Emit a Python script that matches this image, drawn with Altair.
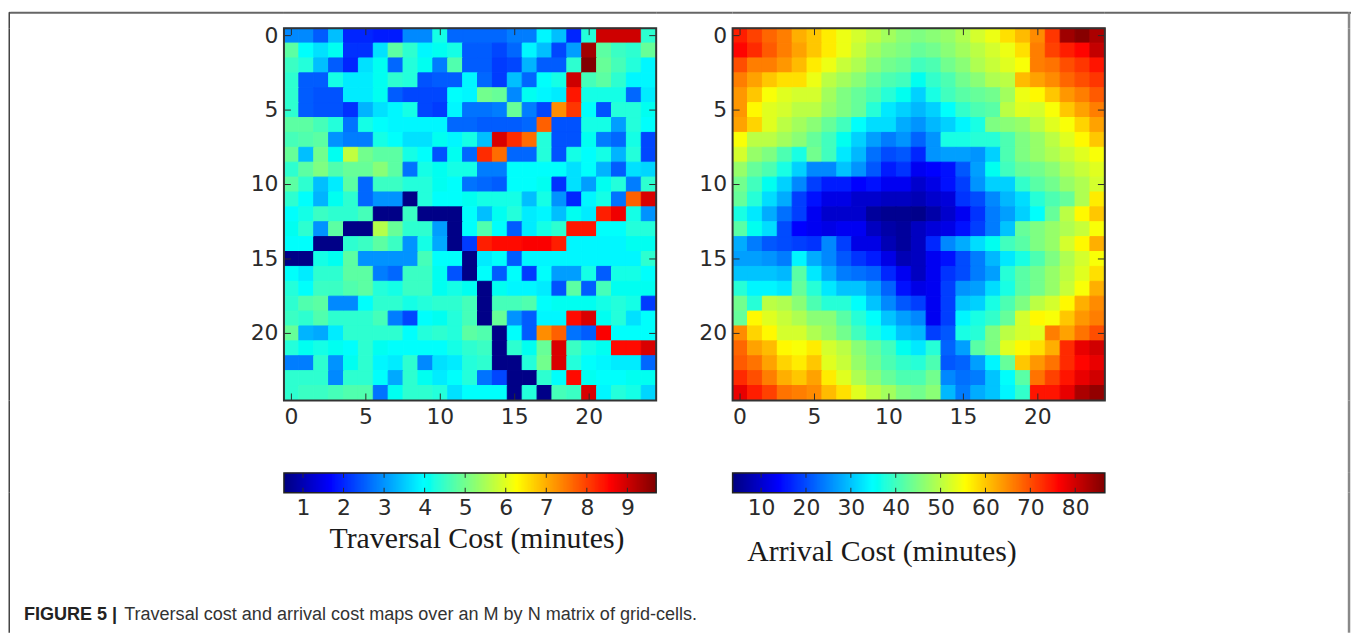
import altair as alt
import numpy as np
import pandas as pd

traversal_cost = [
 [2.9,2.9,2.5,3.4,2.0,2.0,1.9,1.9,2.9,2.9,4.2,2.6,2.6,2.6,2.6,2.8,2.8,3.9,3.4,2.0,4.3,9.0,9.0,9.0,4.4],
 [4.8,4.0,3.7,4.1,2.1,2.1,3.7,4.8,4.4,3.9,4.1,4.2,2.5,2.5,2.3,2.6,3.9,3.4,2.3,3.1,9.4,4.8,4.5,4.4,4.9],
 [4.5,4.3,3.4,2.5,2.0,3.7,4.1,2.6,4.3,4.1,2.8,4.7,2.5,2.5,2.2,2.3,3.3,2.5,2.5,4.4,9.7,4.9,4.6,4.3,3.9],
 [4.4,2.5,2.5,4.2,3.8,3.8,4.1,4.4,4.3,2.4,2.5,2.5,3.9,2.6,2.2,3.4,2.6,4.0,4.2,9.0,4.6,4.8,4.4,3.9,3.9],
 [4.4,2.5,2.4,2.4,3.8,3.8,4.1,2.5,2.3,2.3,2.3,4.0,3.9,5.0,4.9,2.9,4.1,3.9,3.8,8.4,4.2,4.2,4.2,2.6,3.8],
 [4.4,2.5,2.4,2.4,2.1,3.3,3.7,3.9,4.2,2.3,2.2,3.9,2.7,2.7,2.8,4.9,2.8,2.3,7.3,8.1,4.0,2.4,4.3,4.3,4.1],
 [4.8,4.8,4.6,4.3,2.7,4.2,4.0,3.9,3.9,3.9,3.9,2.6,2.6,2.5,2.5,2.5,2.6,7.7,2.4,2.4,4.2,4.2,3.1,4.3,4.0],
 [4.6,4.7,4.8,3.0,2.8,2.8,4.2,4.0,3.7,3.7,4.1,3.9,4.2,3.4,8.9,8.2,7.6,4.3,2.4,2.4,4.1,2.8,2.6,4.2,2.3],
 [4.9,3.4,5.0,4.1,5.7,5.0,4.8,4.8,4.2,4.0,2.4,4.1,2.6,8.2,7.6,2.6,2.6,4.3,2.4,4.2,4.0,4.2,3.3,4.3,2.3],
 [4.4,4.8,5.1,4.7,4.9,4.9,5.2,4.8,2.7,4.2,4.1,4.2,4.2,2.8,2.8,4.0,4.0,4.0,4.0,3.7,4.0,3.3,2.5,3.7,3.6],
 [4.8,4.4,3.4,3.8,4.8,2.6,4.5,4.5,4.3,4.3,4.1,4.0,2.7,2.6,2.5,4.0,4.0,4.1,2.1,3.7,3.1,4.1,4.3,2.8,4.4],
 [4.4,4.0,3.3,4.1,4.4,2.6,3.0,3.0,0.6,4.3,4.0,4.0,4.1,4.2,4.2,4.2,3.4,4.2,3.0,2.0,3.9,4.2,2.7,7.7,8.9],
 [4.0,4.2,4.5,4.4,4.4,4.6,0.6,0.6,4.5,0.6,0.6,0.6,4.0,3.4,4.1,4.3,3.8,3.9,3.4,4.1,3.8,8.3,8.7,4.2,3.0],
 [4.1,4.4,3.0,4.8,0.6,0.6,5.6,4.9,4.4,4.4,3.1,0.6,4.0,4.7,4.0,2.5,3.8,4.2,4.4,8.4,8.4,4.0,4.0,4.3,4.3],
 [4.0,4.0,0.6,0.6,4.4,4.5,4.8,4.5,3.0,4.2,3.2,0.6,2.2,8.3,8.5,8.5,8.6,8.6,8.3,3.9,3.9,3.9,3.9,4.1,4.1],
 [0.6,0.6,4.2,4.1,4.8,3.0,3.0,3.0,3.0,4.6,4.0,4.0,0.6,3.8,4.0,2.5,3.9,3.9,3.9,3.9,3.9,3.9,3.9,3.9,4.4],
 [4.0,3.8,4.4,4.4,4.8,4.8,2.8,2.6,4.5,4.5,4.1,2.4,0.6,4.0,2.5,4.0,2.2,4.0,3.1,3.1,4.2,2.5,4.2,4.2,4.0],
 [4.3,4.0,4.5,4.5,4.7,4.8,4.3,4.2,4.5,4.5,4.1,4.2,4.1,0.6,4.1,3.9,3.9,3.8,2.4,4.8,2.5,4.6,4.1,4.1,4.1],
 [4.4,4.7,4.8,2.9,2.9,4.0,4.4,4.4,4.2,4.3,4.4,4.4,4.6,0.6,4.6,4.6,4.7,4.0,4.1,4.1,4.1,4.2,4.3,4.2,2.2],
 [4.5,4.4,4.7,4.4,4.4,4.4,4.6,2.8,2.3,4.0,4.1,4.3,4.6,0.6,4.9,3.0,2.5,3.9,3.9,8.5,8.9,4.1,4.3,3.7,4.0],
 [4.9,3.3,3.2,3.8,4.4,4.4,4.4,4.4,4.0,4.3,4.4,4.3,4.8,4.7,0.6,4.0,2.5,7.3,7.7,2.7,2.5,8.6,4.0,4.0,4.0],
 [4.3,4.1,4.2,4.1,4.0,4.4,4.1,4.0,4.0,4.0,4.0,4.2,4.4,4.5,0.6,4.4,4.1,4.9,8.9,4.5,4.2,4.1,8.5,8.5,8.9],
 [2.8,2.8,4.4,3.0,4.1,4.4,3.9,3.8,4.4,2.9,3.7,3.8,4.3,4.4,0.6,0.6,4.3,5.0,8.9,4.3,4.0,3.9,3.8,3.8,2.6],
 [4.4,4.4,4.4,2.9,4.4,4.4,4.0,3.2,4.4,4.1,3.8,4.0,4.3,2.7,2.3,0.6,0.6,4.4,4.0,8.5,4.1,4.0,4.0,4.1,4.1],
 [4.4,4.5,4.5,4.6,4.7,4.7,2.7,4.1,4.4,4.4,4.3,3.7,4.0,4.0,4.0,0.6,4.3,0.6,4.6,4.5,8.9,3.9,4.3,4.2,3.6],
]

arrival_cost = [
 [74,71,68,66,62,60,57,54,52,50,48,46,45,46,47,49,52,54,58,61,65,72,84,86,83],
 [76,73,69,66,63,60,57,54,51,48,46,45,43,44,46,48,50,52,54,58,66,71,74,76,81],
 [70,66,66,64,61,57,54,51,49,46,44,43,40,41,44,46,49,51,53,55,66,67,70,72,75],
 [66,63,60,58,58,54,50,48,46,43,41,40,36,39,41,44,46,49,50,61,63,65,68,70,72],
 [64,60,55,53,52,52,48,45,43,41,38,36,31,37,40,42,43,44,48,54,56,60,64,66,69],
 [64,56,53,52,50,50,47,45,43,38,33,31,29,31,35,39,41,42,50,53,52,55,60,63,66],
 [63,59,53,50,48,46,43,40,35,32,32,28,26,29,31,34,37,45,46,47,50,53,55,59,63],
 [55,50,50,48,46,43,40,36,31,27,24,26,22,26,37,37,38,38,41,45,47,50,53,56,60],
 [52,47,45,41,37,44,40,33,29,23,20,21,17,26,27,27,26,31,41,45,47,49,51,53,55],
 [47,43,41,37,31,25,25,30,26,21,16,18,13,14,15,21,27,36,40,43,44,46,49,51,53],
 [44,40,36,31,25,19,16,16,14,15,13,13,10,12,15,19,26,31,31,39,42,44,47,49,52],
 [43,38,32,28,19,15,12,12,10,10,9,9,8,10,11,18,20,25,29,32,38,41,43,49,57],
 [37,33,28,23,19,13,10,10,10,6,5,5,4.5,7,10,13,18,24,27,31,35,43,50,56,60],
 [42,36,32,20,14,13,12,13,13,9,7,6,9,11,12,15,19,24,30,43,45,47,49,51,55],
 [28,24,21,20,19,18,25,19,12,12,8,6,9,17,25,28,32,36,40,42,45,47,52,56,62],
 [27,27,26,24,34,28,25,21,18,16,12,8,9,13,15,20,24,29,33,37,41,45,49,52,55],
 [30,30,30,29,42,33,28,24,23,22,17,13,9,13,18,20,24,27,38,42,44,47,50,53,58],
 [38,34,34,33,43,38,33,30,30,27,22,15,12,13,19,26,27,32,37,42,44,47,51,55,62],
 [44,38,50,49,46,41,38,38,35,30,25,21,19,13,19,30,31,37,41,45,50,52,56,62,65],
 [43,56,53,51,49,46,46,42,38,35,30,27,25,13,19,34,37,39,43,52,56,55,60,64,66],
 [65,59,56,52,52,49,47,44,40,37,34,30,29,19,21,37,38,45,50,52,53,66,63,67,70],
 [68,63,61,56,55,57,52,50,46,43,40,36,33,38,22,27,42,45,53,56,58,62,73,78,80],
 [69,67,63,59,57,60,53,51,47,44,41,39,38,41,21,22,27,34,43,60,64,67,73,76,78],
 [73,70,66,62,60,63,57,53,49,46,43,41,41,44,25,23,24,30,35,42,67,71,75,78,80],
 [78,74,71,67,66,65,61,58,53,50,48,45,44,46,29,24,28,30,34,39,75,75,78,83,85],
]

grid_ticks = [0, 5, 10, 15, 20]
traversal_ticks = [1, 2, 3, 4, 5, 6, 7, 8, 9]
arrival_ticks = [10, 20, 30, 40, 50, 60, 70, 80]
traversal_range = [0.53, 9.71]
arrival_range = [3.65, 86.6]
traversal_title = "Traversal Cost (minutes)"
arrival_title = "Arrival Cost (minutes)"
caption_bold = "FIGURE 5 |"
caption_text = "Traversal cost and arrival cost maps over an M by N matrix of grid-cells."

SIZE = 375
INK = "#2b2b2b"
ONE = alt.Data(values=[{"k": 0}])


def jet(t):
    c = np.clip(1.5 - np.abs(4 * t - np.array([3, 2, 1])), 0, 1)
    return "#%02x%02x%02x" % tuple(int(round(v * 255)) for v in c)


def color_scale(rng):
    ts = np.linspace(0, 1, 33)
    return alt.Scale(domain=[float(rng[0] + t * (rng[1] - rng[0])) for t in ts],
                     range=[jet(t) for t in ts], clamp=True)


def spacer(w, h):
    return alt.Chart(ONE).mark_rule(opacity=0).encode(x=alt.value(0)).properties(width=w, height=h)


def heatmap(matrix, rng):
    rows = pd.DataFrame(
        [{"r": r, "c": c, "v": v} for r, row in enumerate(matrix) for c, v in enumerate(row)]
    )
    ticks = pd.DataFrame({"t": grid_ticks})
    cells = list(range(25))
    xs = alt.Scale(domain=cells, padding=0)
    ys = alt.Scale(domain=cells, padding=0)
    axis = alt.Axis(values=grid_ticks, title=None, domain=False, ticks=False, labelAngle=0,
                    labelFont="DejaVu Sans", labelFontSize=22, labelColor=INK, grid=False, labelPadding=6)
    base = alt.Chart(rows).mark_rect(strokeWidth=1).encode(
        x=alt.X("c:O", scale=xs, axis=axis),
        y=alt.Y("r:O", scale=ys, axis=axis),
        color=alt.Color("v:Q", scale=color_scale(rng), legend=None),
        stroke=alt.Stroke("v:Q", scale=color_scale(rng), legend=None),
    )
    tl = 7
    tick_x = alt.Chart(ticks).mark_rule(color=INK, strokeWidth=1)
    tick_layers = [
        tick_x.encode(x=alt.X("t:O", scale=xs, axis=axis), y=alt.value(0), y2=alt.value(tl)),
        tick_x.encode(x=alt.X("t:O", scale=xs, axis=axis), y=alt.value(SIZE - tl), y2=alt.value(SIZE)),
        tick_x.encode(y=alt.Y("t:O", scale=ys, axis=axis), x=alt.value(0), x2=alt.value(tl)),
        tick_x.encode(y=alt.Y("t:O", scale=ys, axis=axis), x=alt.value(SIZE - tl), x2=alt.value(SIZE)),
    ]
    border = alt.Chart(ONE).mark_rect(filled=False, stroke="#333333", strokeWidth=2).encode(
        x=alt.value(0), x2=alt.value(SIZE), y=alt.value(0), y2=alt.value(SIZE)
    )
    return alt.layer(base, *tick_layers, border).properties(width=SIZE, height=SIZE)


def colorbar(rng, ticks, title, title_x, title_y):
    steps = np.linspace(rng[0], rng[1], 257)
    d = steps[1] - steps[0]
    ramp = pd.DataFrame({"lo": steps[:-1], "hi": np.minimum(steps[:-1] + 2 * d, rng[1]), "v": steps[:-1] + d / 2})
    xs = alt.Scale(domain=rng, nice=False, zero=False)
    axis = alt.Axis(
        values=ticks, title=title, domain=False, ticks=False, grid=False, labelFlush=False,
        labelFont="DejaVu Sans", labelFontSize=22, labelColor=INK, labelPadding=5,
        format="d", titleFont="Liberation Serif", titleFontSize=30, titleFontWeight="normal",
        titleColor="#1a1a1a", titleX=title_x, titleY=title_y, titleBaseline="middle",
        titleAlign="center", titleAnchor="start")
    bar = alt.Chart(ramp).mark_rect(strokeWidth=0).encode(
        x=alt.X("lo:Q", scale=xs, axis=axis),
        x2="hi:Q",
        color=alt.Color("v:Q", scale=color_scale(rng), legend=None),
    )
    t = pd.DataFrame({"t": ticks})
    rule = alt.Chart(t).mark_rule(color=INK, strokeWidth=1)
    top = rule.encode(x=alt.X("t:Q", scale=xs, axis=axis), y=alt.value(0), y2=alt.value(5))
    bottom = rule.encode(x=alt.X("t:Q", scale=xs, axis=axis), y=alt.value(15), y2=alt.value(20))
    border = alt.Chart(ONE).mark_rect(filled=False, stroke="#222222", strokeWidth=1.5).encode(
        x=alt.value(0), x2=alt.value(SIZE), y=alt.value(0), y2=alt.value(20)
    )
    return alt.layer(bar, top, bottom, border).properties(width=SIZE, height=20)


def left_line(h):
    return alt.Chart(ONE).mark_rule(color="#444444", strokeWidth=1.5).encode(
        x=alt.value(0.25), y=alt.value(0), y2=alt.value(h)
    ).properties(width=2, height=h)


def right_line(h):
    return alt.Chart(ONE).mark_rule(color="#888888", strokeWidth=2.5).encode(
        x=alt.value(1), y=alt.value(0), y2=alt.value(h)
    ).properties(width=3, height=h)


def top_line(w):
    return alt.Chart(ONE).mark_rule(color="#666666", strokeWidth=2).encode(
        x=alt.value(0), x2=alt.value(w), y=alt.value(0.5)
    ).properties(width=w, height=HEAD)


HEAD = 16
GAP = 73
cap_bold = alt.Chart(ONE).mark_text(align="left", baseline="middle", font="Liberation Sans",
                                    fontSize=18.2, fontWeight="bold", color="#222222", text=caption_bold
                                    ).encode(x=alt.value(13), y=alt.value(123))
cap_text = alt.Chart(ONE).mark_text(align="left", baseline="middle", font="Liberation Sans",
                                    fontSize=18.2, color="#333333", text=caption_text
                                    ).encode(x=alt.value(114), y=alt.value(123))

COLS = [275, 375, 77, 375, 245]
caption = alt.layer(cap_bold, cap_text).properties(width=COLS[0], height=141)
cells = []
# header row
cells += [alt.layer(top_line(2), left_line(HEAD)).properties(width=2, height=HEAD)]
cells += [top_line(w) for w in COLS]
cells += [alt.layer(top_line(3), right_line(HEAD)).properties(width=3, height=HEAD)]
# heatmap row
cells += [left_line(375), spacer(COLS[0], 375), heatmap(traversal_cost, traversal_range), spacer(COLS[2], 375),
          heatmap(arrival_cost, arrival_range), spacer(COLS[4], 375), right_line(375)]
# gap row
cells += [left_line(GAP)] + [spacer(w, GAP) for w in COLS] + [right_line(GAP)]
# colorbar row
cells += [left_line(20), spacer(COLS[0], 20), colorbar(traversal_range, traversal_ticks, traversal_title, 194, 46),
          spacer(COLS[2], 20), colorbar(arrival_range, arrival_ticks, arrival_title, 150, 59),
          spacer(COLS[4], 20), right_line(20)]
# caption row
cells += [left_line(141), caption] + [spacer(w, 141) for w in COLS[1:]] + [right_line(141)]

chart = alt.concat(*cells, columns=7, spacing=0, bounds="flush", align="each", padding=0).resolve_scale(
    color="independent", stroke="independent"
).configure_view(stroke=None)

chart.save("out.html", embed_options={"renderer": "svg", "actions": False})
